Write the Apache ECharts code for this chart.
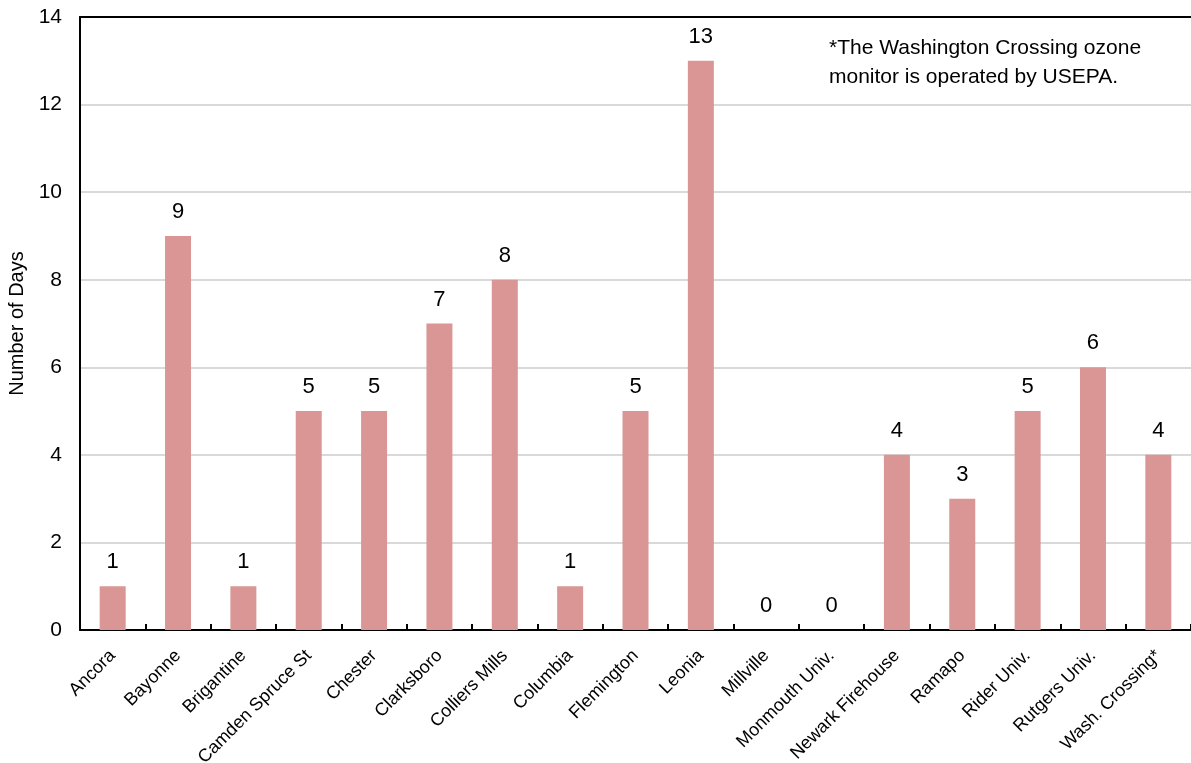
<!DOCTYPE html>
<html>
<head>
<meta charset="utf-8">
<script src="https://cdn.jsdelivr.net/npm/echarts@6/dist/echarts.min.js"></script>
<style>
  html, body { margin: 0; padding: 0; background: #fff; }
  #chart { width: 1191px; height: 763px; }
</style>
</head>
<body>
<div id="chart"></div>
<script>
// Ozone exceedance days by monitoring site
const sites = ['Ancora', 'Bayonne', 'Brigantine', 'Camden Spruce St', 'Chester', 'Clarksboro',
  'Colliers Mills', 'Columbia', 'Flemington', 'Leonia', 'Millville', 'Monmouth Univ.',
  'Newark Firehouse', 'Ramapo', 'Rider Univ.', 'Rutgers Univ.', 'Wash. Crossing*'];
const days = [1, 9, 1, 5, 5, 7, 8, 1, 5, 13, 0, 0, 4, 3, 5, 6, 4];
const yTicks = { min: 0, max: 14, interval: 2 };
const noteLines = ['*The Washington Crossing ozone', 'monitor is operated by USEPA.'];

const font = 'Liberation Sans, Arial, sans-serif';
const chart = echarts.init(document.getElementById('chart'));

chart.setOption({
  animation: false,
  grid: { left: 80, right: 0, top: 17, bottom: 133, containLabel: false, outerBoundsMode: 'none' },
  xAxis: [{
    type: 'category',
    data: sites,
    axisLine: { lineStyle: { color: '#000', width: 2 } },
    axisTick: { show: true, inside: true, length: 6, lineStyle: { color: '#000', width: 2 } },
    axisLabel: {
      interval: 0, rotate: 45, color: '#000', fontFamily: font, fontSize: 18, margin: 23
    }
  }, {
    type: 'category',
    data: sites,
    position: 'top',
    axisLine: { show: true, lineStyle: { color: '#000', width: 2 } },
    axisTick: { show: false },
    axisLabel: { show: false }
  }],
  yAxis: {
    type: 'value',
    min: yTicks.min, max: yTicks.max, interval: yTicks.interval,
    name: 'Number of Days',
    nameLocation: 'middle',
    nameGap: 52,
    nameTextStyle: { color: '#000', fontFamily: font, fontSize: 20 },
    axisLine: { show: true, lineStyle: { color: '#000', width: 2 } },
    axisTick: { show: false },
    axisLabel: { color: '#000', fontFamily: font, fontSize: 21, margin: 18 },
    splitLine: { lineStyle: { color: '#d9d9d9', width: 2 } }
  },
  series: [{
    type: 'bar',
    data: days,
    barWidth: 26,
    itemStyle: { color: '#d99694' },
    label: {
      show: true, position: 'top', distance: 13,
      color: '#000', fontFamily: font, fontSize: 22
    }
  }],
  graphic: [{
    type: 'text',
    left: 829, top: 34,
    style: {
      text: noteLines.join('\n'),
      font: '21px ' + font,
      fill: '#000',
      lineHeight: 29
    }
  }]
});
</script>
</body>
</html>
